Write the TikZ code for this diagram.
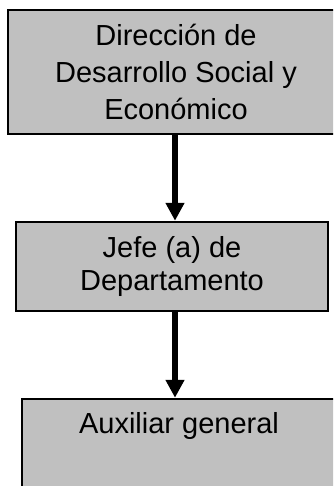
\documentclass[tikz,border=0pt]{standalone}
\usepackage{fontspec}
\setmainfont{Liberation Sans}
\usetikzlibrary{arrows.meta}
\definecolor{boxgray}{HTML}{C0C0C0}
\begin{document}
\begin{tikzpicture}[x=1pt,y=-1pt,
  box/.style={draw=black, line width=2.5pt, fill=boxgray, inner sep=0pt, align=center},
  bigfont/.style={font=\fontsize{29}{37}\selectfont},
  midfont/.style={font=\fontsize{29}{33}\selectfont},
  link/.style={line width=5.5pt, -{Triangle[length=18pt,width=18pt]}}]
\clip (0,0) rectangle (333,486);
\fill[white] (0,0) rectangle (333,486);
\coordinate (ax) at (175,0);
\node[box, bigfont, minimum width=336pt, minimum height=124pt] (dir) at (176,72)
  {Dirección de\\Desarrollo Social y\\Económico};
\node[box, midfont, minimum width=312pt, minimum height=89pt] (jefe) at (172,266.5)
  {Jefe (a) de\\Departamento};
\node[box, midfont, minimum width=314pt, minimum height=89pt] (aux) at (179,443.5)
  {\strut Auxiliar general\\\strut};
\draw[link] (dir.south -| ax) -- (jefe.north -| ax);
\draw[link] (jefe.south -| ax) -- (aux.north -| ax);
\end{tikzpicture}
\end{document}
